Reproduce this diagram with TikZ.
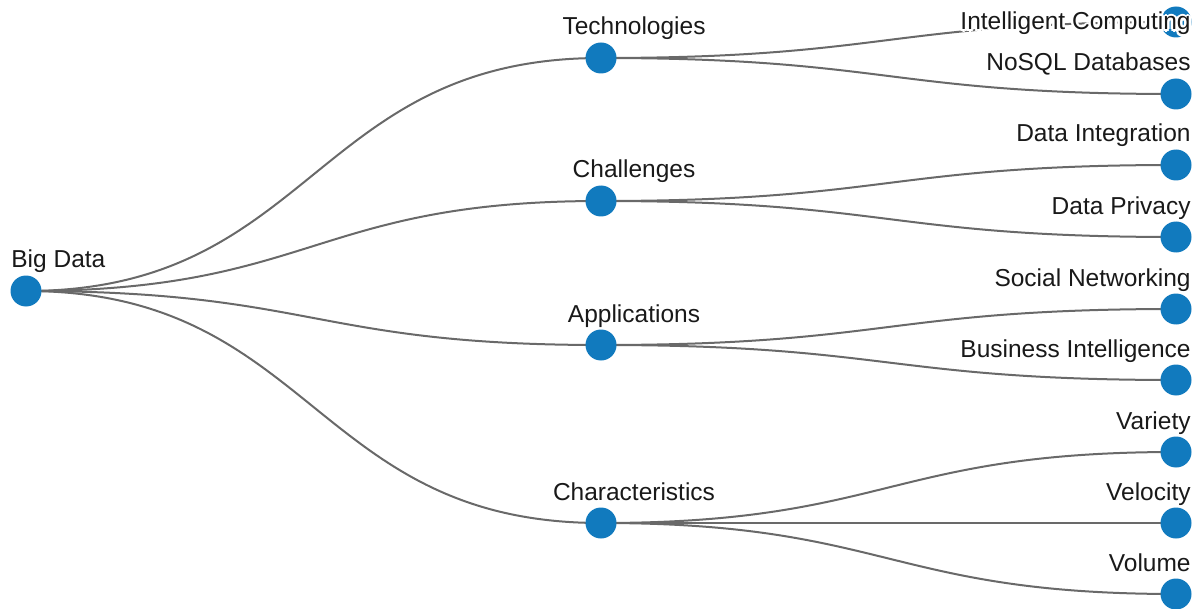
\documentclass[tikz,border=0pt]{standalone}
\usepackage{fontspec}
\setmainfont{Liberation Sans}
\usetikzlibrary{calc, backgrounds}
\definecolor{NodeBlue}{RGB}{17,122,190}
\definecolor{LinkGray}{RGB}{105,105,105}

% label with a white halo, then the text on top
\newcommand{\halolabel}[4]{%
  \coordinate (#1-pos) at (#3);
  \foreach \dx/\dy in {-2.5/0, 2.5/0, 0/-2.5, 0/2.5, -1.8/-1.8, 1.8/-1.8, -1.8/1.8, 1.8/1.8}
    \node[lbl, text=white, anchor=#2] at ([shift={(\dx,\dy)}]#1-pos) {#4};
  \node[lbl, anchor=#2] (#1) at (#1-pos) {#4};
}

\begin{document}
\begin{tikzpicture}[x=0.5pt, y=-0.5pt,
    dot/.style={circle, fill=NodeBlue, minimum size=15.5pt, inner sep=0pt},
    link/.style={draw=LinkGray, line width=1pt},
    lbl/.style={inner sep=0pt, text=black!90, font=\fontsize{12.25pt}{14pt}\selectfont}]
    \useasboundingbox (0,0) rectangle (1198,609);

    % root and first level
    \node[dot] (root) at (26,291) {};
    \node[dot] (tech) at (601,58) {};
    \node[dot] (chal) at (601,201) {};
    \node[dot] (appl) at (601,345) {};
    \node[dot] (char) at (601,523) {};

    % leaves
    \node[dot] (intel) at (1176,22) {};
    \node[dot] (nosql) at (1176,94) {};
    \node[dot] (integ) at (1176,165) {};
    \node[dot] (priv) at (1176,237) {};
    \node[dot] (social) at (1176,309) {};
    \node[dot] (busi) at (1176,380) {};
    \node[dot] (vari) at (1176,452) {};
    \node[dot] (velo) at (1176,523) {};
    \node[dot] (volu) at (1176,594) {};

    \begin{pgfonlayer}{background}
    \foreach \a/\b in {root/tech, root/chal, root/appl, root/char,
        tech/intel, tech/nosql, chal/integ, chal/priv, appl/social, appl/busi,
        char/vari, char/velo, char/volu}
      \draw[link] let \p1=(\a.center), \p2=(\b.center) in
        (\p1) .. controls ({(\x1+\x2)/2},\y1) and ({(\x1+\x2)/2},\y2) .. (\p2);
    \end{pgfonlayer}

    \node[lbl, anchor=base west] (root-l) at ($(root.center)+(-15,-24)$) {Big Data};
    \node[lbl, anchor=base] (tech-l) at ($(tech.center)+(33,-23)$) {Technologies};
    \node[lbl, anchor=base] (chal-l) at ($(chal.center)+(33,-23)$) {Challenges};
    \node[lbl, anchor=base] (appl-l) at ($(appl.center)+(33,-23)$) {Applications};
    \node[lbl, anchor=base] (char-l) at ($(char.center)+(33,-23)$) {Characteristics};

    \halolabel{intel-l}{base east}{$(intel.center)+(15,8)$}{Intelligent Computing}
    \node[lbl, anchor=base east] (nosql-l) at ($(nosql.center)+(15,-23)$) {NoSQL Databases};
    \node[lbl, anchor=base east] (integ-l) at ($(integ.center)+(15,-23)$) {Data Integration};
    \node[lbl, anchor=base east] (priv-l) at ($(priv.center)+(15,-23)$) {Data Privacy};
    \node[lbl, anchor=base east] (social-l) at ($(social.center)+(15,-23)$) {Social Networking};
    \node[lbl, anchor=base east] (busi-l) at ($(busi.center)+(15,-23)$) {Business Intelligence};
    \node[lbl, anchor=base east] (vari-l) at ($(vari.center)+(15,-23)$) {Variety};
    \node[lbl, anchor=base east] (velo-l) at ($(velo.center)+(15,-23)$) {Velocity};
    \node[lbl, anchor=base east] (volu-l) at ($(volu.center)+(15,-23)$) {Volume};
\end{tikzpicture}
\end{document}
